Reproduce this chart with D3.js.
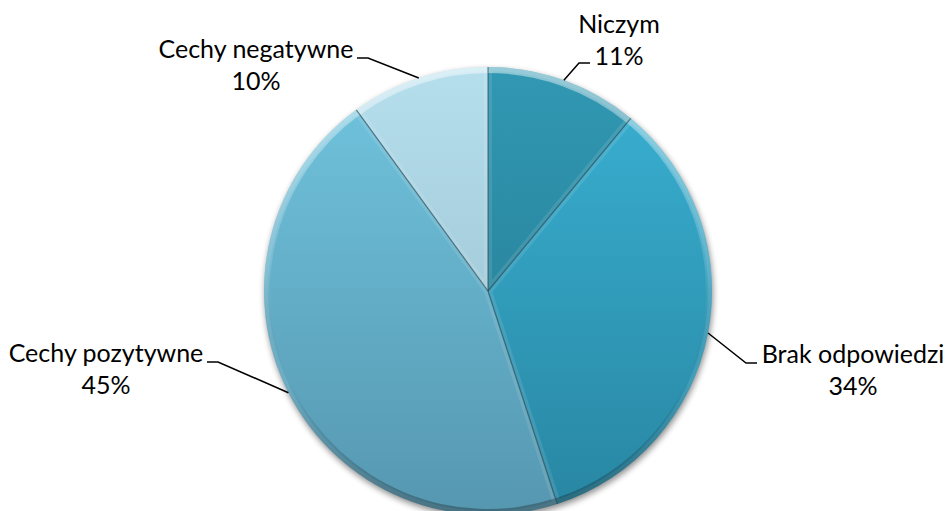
<!DOCTYPE html>
<meta charset="utf-8">
<title>Pie</title>
<style>
    body { margin: 0; background: #fff; }
    .label { font-family: Lato, "Open Sans", sans-serif; font-size: 25px; fill: #000; }
    .leader { fill: none; stroke: #000; stroke-width: 1.5px; }
</style>
<body>
<svg id="chart"></svg>
<script src="https://cdnjs.cloudflare.com/ajax/libs/d3/7.8.5/d3.min.js"></script>
<script>
    // data
    var categories = ["Niczym", "Brak odpowiedzi", "Cechy pozytywne", "Cechy negatywne"];
    var values = [11, 34, 45, 10];
    var valueLabels = ["11%", "34%", "45%", "10%"];

    // colours per slice (top / bottom of the gradient)
    var topColors = ["#3198b3", "#3ab1d3", "#71c5df", "#b6dfee"];
    var bottomColors = ["#24778d", "#2886a2", "#5697b0", "#92b9c6"];

    // label layout: text centre x, first baseline y, end of the leader
    var labelCx = [619, 853, 106, 256];
    var labelY = [33, 363, 362, 58];
    var leaderEnd = [[590, 63], [757, 363], [207, 362], [357, 58]];

    var width = 947, height = 511;
    var cx = 488, cy = 291, radius = 224;

    var svg = d3.select("#chart")
        .attr("width", width)
        .attr("height", height);

    var defs = svg.append("defs");

    var shadow = defs.append("filter").attr("id", "shadow")
        .attr("x", "-20%").attr("y", "-20%").attr("width", "140%").attr("height", "140%");
    shadow.append("feGaussianBlur").attr("in", "SourceAlpha").attr("stdDeviation", 3);
    shadow.append("feOffset").attr("dx", 1).attr("dy", 3).attr("result", "off");
    shadow.append("feComponentTransfer").append("feFuncA").attr("type", "linear").attr("slope", 0.45);

    values.forEach(function (v, i) {
        var g = defs.append("linearGradient")
            .attr("id", "grad" + i)
            .attr("gradientUnits", "userSpaceOnUse")
            .attr("x1", 0).attr("y1", -radius).attr("x2", 0).attr("y2", radius);
        g.append("stop").attr("offset", "0%").attr("stop-color", topColors[i]);
        g.append("stop").attr("offset", "100%").attr("stop-color", bottomColors[i]);
    });

    var rim = defs.append("linearGradient")
        .attr("id", "rim")
        .attr("gradientUnits", "userSpaceOnUse")
        .attr("x1", 0).attr("y1", -radius).attr("x2", 0).attr("y2", radius);
    rim.append("stop").attr("offset", "0%").attr("stop-color", "#fff").attr("stop-opacity", 0.45);
    rim.append("stop").attr("offset", "45%").attr("stop-color", "#fff").attr("stop-opacity", 0.12);
    rim.append("stop").attr("offset", "70%").attr("stop-color", "#000").attr("stop-opacity", 0.0);
    rim.append("stop").attr("offset", "100%").attr("stop-color", "#000").attr("stop-opacity", 0.3);

    var pie = d3.pie().sort(null).value(function (d) { return d; });
    var arcs = pie(values);

    var arc = d3.arc().innerRadius(0).outerRadius(radius);
    var rimArc = d3.arc().innerRadius(radius - 6).outerRadius(radius);

    var g = svg.append("g").attr("transform", "translate(" + cx + "," + cy + ")");

    // shadow under the pie
    g.append("circle").attr("r", radius).attr("fill", "#555").attr("filter", "url(#shadow)");

    arcs.forEach(function (a, i) {
        defs.append("clipPath").attr("id", "clip" + i)
            .append("path").attr("d", arc(a));

        g.append("path")
            .attr("d", arc(a))
            .attr("fill", "url(#grad" + i + ")");

        // inner bevel highlight along the slice edges
        g.append("path")
            .attr("d", arc(a))
            .attr("fill", "none")
            .attr("stroke", "#fff")
            .attr("stroke-opacity", 0.1)
            .attr("stroke-width", 8)
            .attr("clip-path", "url(#clip" + i + ")");

        g.append("path")
            .attr("d", rimArc(a))
            .attr("fill", "url(#rim)");
    });

    // slice separators
    arcs.forEach(function (a) {
        g.append("line")
            .attr("x1", 0).attr("y1", 0)
            .attr("x2", radius * Math.sin(a.startAngle))
            .attr("y2", -radius * Math.cos(a.startAngle))
            .attr("stroke", "#1f3f4a")
            .attr("stroke-opacity", 0.6)
            .attr("stroke-width", 1.2);
    });

    // leader lines and labels
    arcs.forEach(function (a, i) {
        var mid = (a.startAngle + a.endAngle) / 2;
        var p0 = [cx + radius * Math.sin(mid), cy - radius * Math.cos(mid)];
        var end = leaderEnd[i];
        var side = end[0] > cx ? 1 : -1;
        var elbow = [end[0] - side * 11, end[1]];
        svg.append("path")
            .attr("class", "leader")
            .attr("d", d3.line()([p0, elbow, end]));

        var t = svg.append("text")
            .attr("class", "label")
            .attr("text-anchor", "middle");
        t.append("tspan").attr("x", labelCx[i]).attr("y", labelY[i]).text(categories[i]);
        t.append("tspan").attr("x", labelCx[i]).attr("y", labelY[i] + 32).text(valueLabels[i]);
    });
</script>
</body>
